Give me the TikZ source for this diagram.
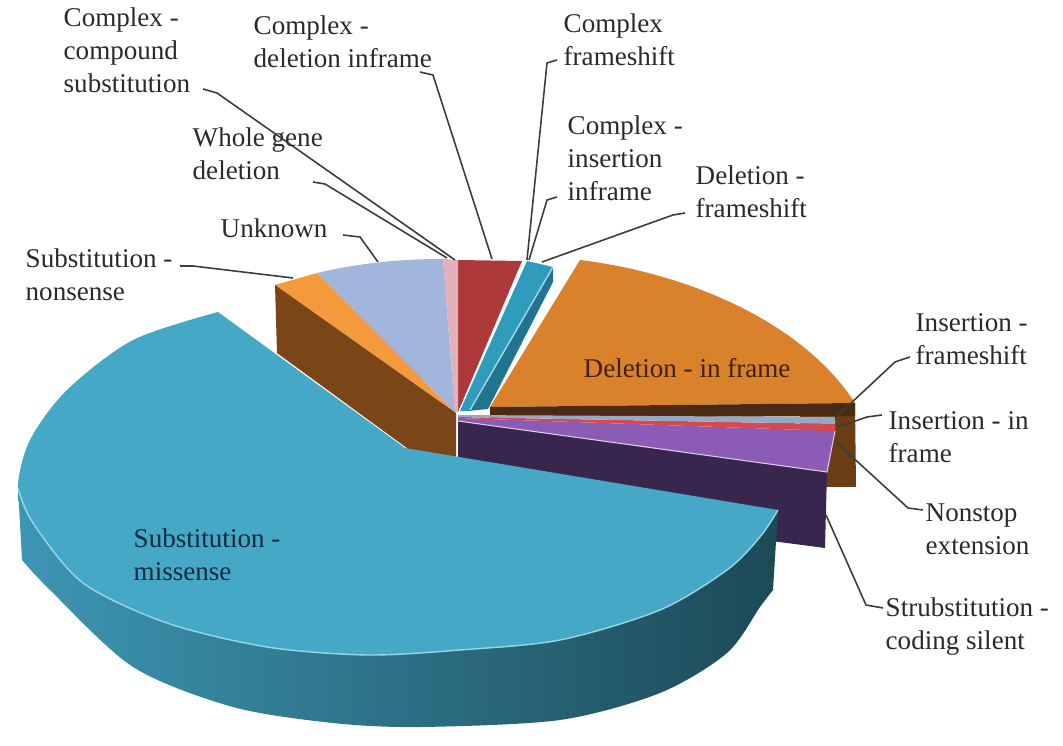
\documentclass[tikz,border=0pt]{standalone}
\usepackage{fontspec}
\setmainfont{Liberation Serif}
\definecolor{labelc}{HTML}{2A2A2A}
\definecolor{leadc}{HTML}{3C3C3C}
\definecolor{btop}{HTML}{46A8C7}
\definecolor{bsideA}{HTML}{3D96B4}
\definecolor{bsideB}{HTML}{1C4A57}
\definecolor{bedge}{HTML}{9AD5E5}
\definecolor{nbrown}{HTML}{7A4517}
\definecolor{norange}{HTML}{F39A3C}
\definecolor{unk}{HTML}{A2B5DD}
\definecolor{pinkc}{HTML}{E2B1BA}
\definecolor{redc}{HTML}{AE393B}
\definecolor{tealtop}{HTML}{2E9CBA}
\definecolor{tealside}{HTML}{1F7591}
\definecolor{delor}{HTML}{D9822B}
\definecolor{dstrip}{HTML}{4A2A12}
\definecolor{rblock}{HTML}{6A3D14}
\definecolor{grayb}{HTML}{95A9C7}
\definecolor{redstrip}{HTML}{D8484D}
\definecolor{violetc}{HTML}{8B5BB5}
\definecolor{dpurple}{HTML}{38264F}
\definecolor{intxt}{HTML}{3D2006}
\definecolor{misstxt}{HTML}{0E2A3D}
\begin{document}
\begin{tikzpicture}[x=0.01cm,y=-0.01cm,
  lbl/.style={font=\fontsize{7.7}{9.4}\selectfont, text=labelc, align=left, anchor=base west, inner sep=0pt},
  lead/.style={draw=leadc, line width=0.45pt},
  facelight/.style={draw=white, line width=0.3pt}]
\useasboundingbox (0,0) rectangle (1063,746);

% ---------- back slices ----------
% outer side of the "Deletion - in frame" slice (right brown block)
\fill[rblock] (800,410) -- (855,403) -- (856,487) -- (800,487) -- cycle;
% Deletion - in frame top
\fill[delor] (490,407) -- (580,260) .. controls (680,272) and (800,318) .. (855,403) -- cycle;
% dark front strip under it
\fill[dstrip] (490,407) -- (855,403) -- (855,416) -- (490,418) -- cycle;

% Deletion - frameshift (teal)
\fill[tealside] (468,411) -- (553,267) -- (553,282) -- (488,409) -- cycle;
\fill[tealtop] (460,411) -- (527,261) -- (553,267) -- (468,411) -- cycle;
\draw[draw=white!60!tealtop, line width=0.4pt] (553,267) -- (470,410);

% Complex - deletion inframe (red)
\fill[redc] (458,260) -- (522,261) -- (458,412) -- cycle;
% Whole gene deletion (pink)
\fill[pinkc] (443,259) -- (458,260) -- (458,412) -- (455,412) -- cycle;
% Unknown (light blue)
\fill[unk] (317,273) .. controls (360,263) and (400,259) .. (443,259) -- (455,412) -- cycle;
% Substitution - nonsense (orange top)
\fill[norange] (275,285) -- (317,273) -- (455,412) -- cycle;
% cut face of the nonsense slice (brown)
\fill[nbrown] (275,285) -- (456,413) -- (456,484) -- (277,353) -- cycle;

% ---------- right fan ----------
\fill[dpurple] (458,421) -- (827,472) -- (825,548) -- (458,500) -- cycle;
\fill[violetc] (458,418) -- (835,431) -- (827,472) -- (458,421) -- cycle;
\fill[redstrip] (458,417) -- (835,424) -- (835,431) -- (458,418) -- cycle;
\fill[grayb] (458,415) -- (835,417) -- (835,424) -- (458,417) -- cycle;
\draw[draw=white!70!violetc, line width=0.3pt] (835,431) -- (827,472) -- (458,421);

% ---------- Substitution - missense (big blue) ----------
\shade[left color=bsideA, right color=bsideB]
  plot[smooth] coordinates {(18,488) (33,523) (83,583) (167,623) (267,647) (367,655) (460,650) (560,640) (660,610) (727,570) (760,537) (778,510)}
  -- (773,590)
  -- plot[smooth] coordinates {(773,590) (760,607) (727,653) (660,693) (560,720) (420,727) (333,723) (233,707) (133,667) (50,590) (22,560)}
  -- cycle;
\fill[btop] (405,448) -- (218,312)
  -- plot[smooth] coordinates {(218,312) (133,340) (67,390) (30,440) (18,488) (33,523) (83,583) (167,623) (267,647) (367,655) (460,650) (560,640) (660,610) (727,570) (760,537) (778,510)}
  -- cycle;
\draw[draw=bedge, line width=0.4pt]
  plot[smooth] coordinates {(18,488) (33,523) (83,583) (167,623) (267,647) (367,655) (460,650) (560,640) (660,610) (727,570) (760,537) (778,510)};

% ---------- inner labels (anchor = baseline of the last line) ----------
\node[lbl, text=intxt] (tdelframe) at (583,378) {Deletion - in frame};
\node[lbl, text=misstxt] (tmiss) at (133,581) {Substitution -\\missense};

% ---------- outer labels ----------
\node[lbl] (lcomp) at (63,93) {Complex -\\compound\\substitution};
\node[lbl] (ldelin) at (253,68) {Complex -\\deletion inframe};
\node[lbl] (lwhole) at (192,180) {Whole gene\\deletion};
\node[lbl] (lunk) at (220,238) {Unknown};
\node[lbl] (lnons) at (25,301) {Substitution -\\nonsense};
\node[lbl] (lcfs) at (563,66) {Complex\\frameshift};
\node[lbl] (lcins) at (567,201) {Complex -\\insertion\\inframe};
\node[lbl] (ldfs) at (695,218) {Deletion -\\frameshift};
\node[lbl] (lifs) at (915,365) {Insertion -\\frameshift};
\node[lbl] (liif) at (888,463) {Insertion - in\\frame};
\node[lbl] (lnst) at (925,555) {Nonstop\\extension};
\node[lbl] (lsil) at (885,650) {Strubstitution -\\coding silent};

% ---------- leader lines ----------
\coordinate (scomp) at (203,89);   \coordinate (ecomp) at (455,260);
\coordinate (swhole) at (313,182); \coordinate (ewhole) at (447,258);
\coordinate (sdelin) at (420,72);  \coordinate (edelin) at (492,259);
\coordinate (scfs) at (557,60);    \coordinate (ecfs) at (527,260);
\coordinate (scins) at (557,197);  \coordinate (ecins) at (529,260);
\coordinate (sdfs) at (685,213);   \coordinate (edfs) at (542,262);
\coordinate (sunk) at (343,235);   \coordinate (eunk) at (378,262);
\coordinate (snons) at (180,266);  \coordinate (enons) at (293,278);
\coordinate (sifs) at (910,357);   \coordinate (eifs) at (835,418);
\coordinate (siif) at (882,415);   \coordinate (eiif) at (838,427);
\coordinate (snst) at (923,510);   \coordinate (enst) at (836,442);
\coordinate (ssil) at (883,608);   \coordinate (esil) at (826,515);

\draw[lead] (scomp) -- ++(14,4) -- (ecomp);
\draw[lead] (swhole) -- ++(12,2) -- (ewhole);
\draw[lead] (sdelin) -- ++(13,3) -- (edelin);
\draw[lead] (scfs) -- ++(-10,3) -- (ecfs);
\draw[lead] (scins) -- ++(-10,3) -- (ecins);
\draw[lead] (sdfs) -- ++(-12,2) -- (edfs);
\draw[lead] (sunk) -- ++(17,2) -- (eunk);
\draw[lead] (snons) -- ++(13,0) -- (enons);
\draw[lead] (sifs) -- ++(-15,5) -- (eifs);
\draw[lead] (siif) -- ++(-15,2) -- (eiif);
\draw[lead] (snst) -- ++(-15,-2) -- (enst);
\draw[lead] (ssil) -- ++(-17,-3) -- (esil);
\end{tikzpicture}
\end{document}
